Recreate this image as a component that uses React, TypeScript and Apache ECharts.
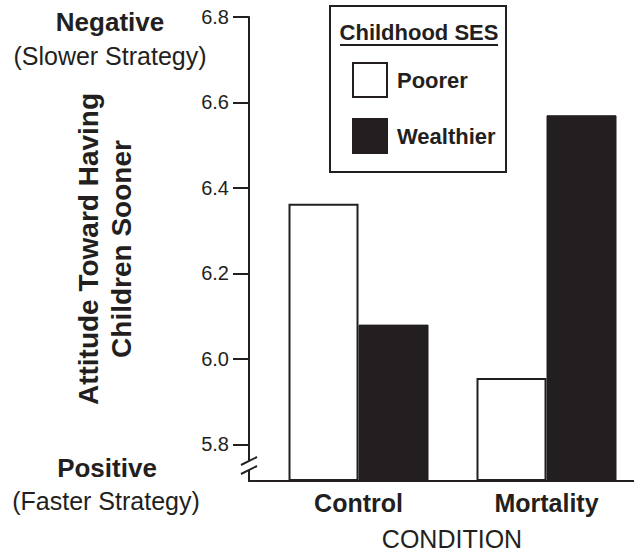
import React, { useEffect, useRef } from "react";
import * as echarts from "echarts";

const conditions = ["Control", "Mortality"];
const poorer = [6.363, 5.955];
const wealthier = [6.08, 6.57];
const yTicks = [5.8, 6.0, 6.2, 6.4, 6.6, 6.8];
const seriesNames = ["Poorer", "Wealthier"];

const INK = "#231f20";
const FONT = '"Liberation Sans", Arial, Helvetica, sans-serif';

export default function App() {
  const ref = useRef<HTMLDivElement>(null);
  useEffect(() => {
    if (!ref.current) return;
    const chart = echarts.init(ref.current, null, { renderer: "svg" });
    const txt = (text: string, x: number, y: number, size: number, bold: boolean) => ({
      type: "text",
      x,
      y,
      style: {
        text,
        fill: INK,
        fontSize: size,
        fontWeight: bold ? "bold" : "normal",
        fontFamily: FONT,
        align: "center",
        verticalAlign: "middle",
      },
    });
    chart.setOption({
      animation: false,
      backgroundColor: "#ffffff",
      textStyle: { fontFamily: FONT, color: INK },
      grid: { left: 249, right: 0, top: 17, bottom: 71, containLabel: false },
      xAxis: {
        type: "value",
        min: -0.5825,
        max: 1.4654,
        splitLine: { show: false },
        axisLine: { show: true, onZero: false, lineStyle: { color: INK, width: 2 } },
        axisTick: { show: false },
        axisLabel: {
          customValues: [0, 1],
          formatter: (v: number) => conditions[Math.round(v)] ?? "",
          fontSize: 25,
          fontWeight: "bold",
          color: INK,
          fontFamily: FONT,
          margin: 9,
        },
      },
      yAxis: {
        type: "value",
        min: 5.714,
        max: 6.8,
        startValue: 5.714,
        splitLine: { show: false },
        axisLine: { show: true, onZero: false, lineStyle: { color: INK, width: 2 } },
        axisTick: {
          show: true,
          customValues: yTicks,
          length: 16,
          lineStyle: { color: INK, width: 2 },
        },
        axisLabel: {
          customValues: yTicks,
          formatter: (v: number) => v.toFixed(1),
          fontSize: 20,
          color: INK,
          fontFamily: FONT,
          margin: 20,
        },
        name: "Attitude Toward Having\nChildren Sooner",
        nameLocation: "middle",
        nameRotate: 90,
        nameGap: 111,
        nameTextStyle: {
          fontSize: 28,
          fontWeight: "bold",
          color: INK,
          fontFamily: FONT,
          lineHeight: 33,
        },
      },
      legend: {
        orient: "vertical",
        left: 352,
        top: 62,
        padding: 0,
        itemWidth: 34,
        itemHeight: 34,
        itemGap: 20,
        icon: "rect",
        data: seriesNames,
        textStyle: {
          fontSize: 22,
          fontWeight: "bold",
          color: INK,
          fontFamily: FONT,
          padding: [0, 0, 0, 5],
        },
      },
      series: [
        {
          name: seriesNames[0],
          type: "bar",
          barWidth: 70,
          barGap: "0%",
          clip: true,
          data: poorer.map((v, i) => [i, v]),
          itemStyle: { color: "#ffffff", borderColor: INK, borderWidth: 2 },
        },
        {
          name: seriesNames[1],
          type: "bar",
          barWidth: 70,
          barGap: "0%",
          clip: true,
          data: wealthier.map((v, i) => [i, v]),
          itemStyle: { color: INK, borderColor: INK, borderWidth: 1 },
        },
      ],
      graphic: [
        {
          type: "rect",
          shape: { x: 330, y: 6, width: 176, height: 166 },
          style: { fill: "none", stroke: INK, lineWidth: 2 },
          z: 10,
        },
        { ...txt("Childhood SES", 419, 32, 22, true), z: 10 },
        {
          type: "line",
          shape: { x1: 340, y1: 45, x2: 498, y2: 45 },
          style: { stroke: INK, lineWidth: 2 },
          z: 10,
        },
        txt("Negative", 110, 22, 26, true),
        txt("(Slower Strategy)", 110, 56, 25, false),
        txt("Positive", 107, 468, 26, true),
        txt("(Faster Strategy)", 106, 501, 25, false),
        txt("CONDITION", 452, 539, 25, false),
        {
          type: "polygon",
          shape: { points: [[241, 465], [257, 457], [257, 466], [241, 474]] },
          style: { fill: "#ffffff" },
          z: 20,
        },
        {
          type: "line",
          shape: { x1: 241, y1: 465, x2: 257, y2: 457 },
          style: { stroke: INK, lineWidth: 2 },
          z: 21,
        },
        {
          type: "line",
          shape: { x1: 241, y1: 474, x2: 257, y2: 466 },
          style: { stroke: INK, lineWidth: 2 },
          z: 21,
        },
      ],
    });
    return () => chart.dispose();
  }, []);
  return (
    <div
      ref={ref}
      style={{ position: "fixed", left: 0, top: 0, width: 634, height: 552, background: "#fff" }}
    />
  );
}
